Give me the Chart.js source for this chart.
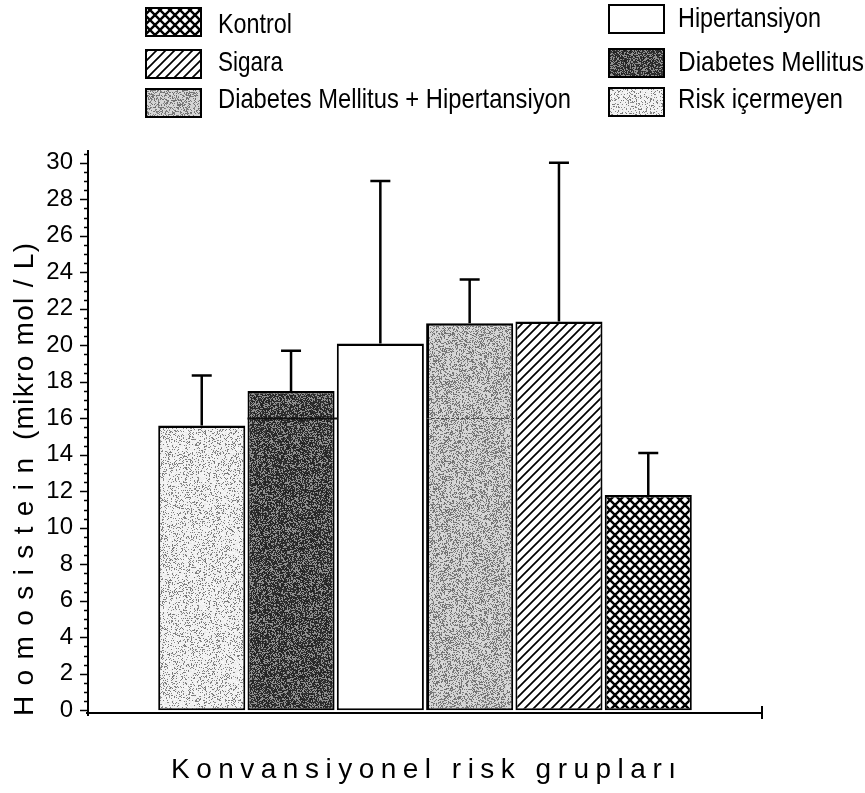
<!DOCTYPE html>
<html>
<head>
<meta charset="utf-8">
<script src="https://cdn.jsdelivr.net/npm/chart.js@4.4.1/dist/chart.umd.min.js"></script>
<style>
  html, body { margin: 0; padding: 0; background: #ffffff; }
  #wrap { position: relative; width: 865px; height: 793px; }
  canvas { display: block; }
</style>
</head>
<body>
<div id="wrap"><canvas id="chart" width="865" height="793"></canvas></div>
<script>
// Risk groups, in bar order (left to right)
const groups = ['Risk içermeyen', 'Diabetes Mellitus', 'Hipertansiyon',
                'Diabetes Mellitus + Hipertansiyon', 'Sigara', 'Kontrol'];
// Mean homocysteine (µmol/L) per group
const means = [15.6, 17.5, 20.1, 21.2, 21.3, 11.8];
// Upper error (SD) per group
const sdUpper = [2.75, 2.2, 8.9, 2.4, 8.7, 2.3];
// Inner divider drawn inside some bars (value, or null for none)
const innerLine = [null, 16, null, 16, null, null];
// Y axis labels
const yTicks = [0, 2, 4, 6, 8, 10, 12, 14, 16, 18, 20, 22, 24, 26, 28, 30];
// Legend: two columns of three entries
const legendLeft = ['Kontrol', 'Sigara', 'Diabetes Mellitus + Hipertansiyon'];
const legendRight = ['Hipertansiyon', 'Diabetes Mellitus', 'Risk içermeyen'];
// Axis titles
const yTitleWord = 'Homosistein';
const yTitleUnit = '(mikro mol / L)';
const xTitle = 'Konvansiyonel risk grupları';

const FONT = '"Liberation Sans Narrow", "Liberation Sans", Arial, sans-serif';

// ---- fill textures ----
function mulberry32(a) {
  return function () {
    a |= 0; a = a + 0x6D2B79F5 | 0;
    let t = Math.imul(a ^ a >>> 15, 1 | a);
    t = t + Math.imul(t ^ t >>> 7, 61 | t) ^ t;
    return ((t ^ t >>> 14) >>> 0) / 4294967296;
  };
}
function stipple(seed, pDark, dark, light) {
  const n = 128;
  const c = document.createElement('canvas');
  c.width = n; c.height = n;
  const g = c.getContext('2d');
  const img = g.createImageData(n, n);
  const rnd = mulberry32(seed);
  for (let i = 0; i < n * n; i++) {
    const v = rnd() < pDark ? dark + rnd() * 30 : light + rnd() * 15;
    img.data[i * 4] = img.data[i * 4 + 1] = img.data[i * 4 + 2] = Math.min(255, v);
    img.data[i * 4 + 3] = 255;
  }
  g.putImageData(img, 0, 0);
  return g.createPattern(c, 'repeat');
}
function hatch(size, width, cross) {
  const c = document.createElement('canvas');
  c.width = size; c.height = size;
  const g = c.getContext('2d');
  g.fillStyle = '#fff'; g.fillRect(0, 0, size, size);
  g.strokeStyle = '#000'; g.lineWidth = width;
  g.beginPath();
  const s = size;
  // "/" lines
  g.moveTo(0, s); g.lineTo(s, 0);
  g.moveTo(-s / 2, s / 2); g.lineTo(s / 2, -s / 2);
  g.moveTo(s / 2, s * 1.5); g.lineTo(s * 1.5, s / 2);
  if (cross) {
    // "\" lines
    g.moveTo(0, 0); g.lineTo(s, s);
    g.moveTo(-s / 2, s / 2); g.lineTo(s / 2, s * 1.5);
    g.moveTo(s / 2, -s / 2); g.lineTo(s * 1.5, s / 2);
  }
  g.stroke();
  return g.createPattern(c, 'repeat');
}

const fills = {
  'Risk içermeyen': stipple(11, 0.2, 115, 234),
  'Diabetes Mellitus': stipple(23, 0.64, 28, 135),
  'Hipertansiyon': '#ffffff',
  'Diabetes Mellitus + Hipertansiyon': stipple(37, 0.38, 105, 205),
  'Sigara': hatch(9, 1.7, false),
  'Kontrol': hatch(10, 2.4, true)
};

const datasets = groups.map((name, i) => ({
  label: name,
  data: [means[i]],
  backgroundColor: fills[name],
  borderColor: '#000',
  borderWidth: i === 3 ? { left: 3, right: 2, top: 2.5, bottom: 2 } : { left: 2, right: 2, top: 2.5, bottom: 2 },
  borderSkipped: false
}));

// ---- drawing helpers ----
function spacedText(ctx, text, length) {
  // lays characters along the baseline so the run spans `length` px
  const chars = [...text];
  const widths = chars.map(ch => ctx.measureText(ch).width);
  const total = widths.reduce((a, b) => a + b, 0);
  const gap = chars.length > 1 ? (length - total) / (chars.length - 1) : 0;
  let x = 0;
  chars.forEach((ch, k) => { ctx.fillText(ch, x, 0); x += widths[k] + gap; });
}

const decorations = {
  id: 'decorations',
  beforeDraw(chart) {
    const ctx = chart.ctx;
    ctx.save();
    ctx.fillStyle = '#fff';
    ctx.fillRect(0, 0, chart.width, chart.height);
    ctx.restore();
  },
  afterDatasetsDraw(chart) {
    const ctx = chart.ctx;
    const y = chart.scales.y;
    ctx.save();
    // inner dividers
    innerLine.forEach((v, i) => {
      if (v == null) return;
      const bar = chart.getDatasetMeta(i).data[0];
      const py = Math.round(y.getPixelForValue(v)) + 0.5;
      ctx.beginPath();
      if (i === 1) { ctx.strokeStyle = '#111'; ctx.lineWidth = 2; ctx.setLineDash([]); }
      else { ctx.strokeStyle = '#444'; ctx.lineWidth = 1; ctx.setLineDash([3, 2]); }
      ctx.moveTo(bar.x - bar.width / 2, py);
      ctx.lineTo(bar.x + bar.width / 2 + 3, py);
      ctx.stroke();
    });
    ctx.setLineDash([]);
    // upper error bars
    ctx.strokeStyle = '#000';
    ctx.lineWidth = 2.5;
    groups.forEach((_, i) => {
      const bar = chart.getDatasetMeta(i).data[0];
      const top = y.getPixelForValue(means[i] + sdUpper[i]);
      ctx.beginPath();
      ctx.moveTo(bar.x, bar.y);
      ctx.lineTo(bar.x, top);
      ctx.moveTo(bar.x - 10, top);
      ctx.lineTo(bar.x + 10, top);
      ctx.stroke();
    });
    ctx.restore();
  },
  afterDraw(chart) {
    const ctx = chart.ctx;
    const { left, right, top, bottom } = chart.chartArea;
    const y = chart.scales.y;
    ctx.save();
    ctx.strokeStyle = '#000';
    ctx.fillStyle = '#000';

    // axes
    ctx.lineWidth = 2;
    ctx.beginPath();
    ctx.moveTo(left, top);
    ctx.lineTo(left, bottom + 3);
    ctx.moveTo(left - 2, bottom);
    ctx.lineTo(right, bottom);
    ctx.moveTo(right, bottom - 7);
    ctx.lineTo(right, bottom + 6);
    ctx.stroke();

    // y tick marks: major at labels, minor every 0.5
    ctx.lineWidth = 1.5;
    ctx.beginPath();
    for (let v = 0; v <= y.max + 1e-6; v += 0.5) {
      const py = Math.round(y.getPixelForValue(v)) + 0.5;
      const major = yTicks.includes(v);
      ctx.moveTo(left - (major ? 8 : 4), py);
      ctx.lineTo(left, py);
    }
    ctx.stroke();

    // y title (rotated)
    ctx.font = '28px ' + FONT;
    ctx.textBaseline = 'alphabetic';
    ctx.textAlign = 'left';
    ctx.save();
    ctx.translate(33, 716);
    ctx.rotate(-Math.PI / 2);
    spacedText(ctx, yTitleWord, 258);
    ctx.restore();
    ctx.save();
    ctx.translate(33, 440);
    ctx.rotate(-Math.PI / 2);
    spacedText(ctx, yTitleUnit, 197);
    ctx.restore();

    // x title
    ctx.save();
    ctx.translate(171, 778);
    spacedText(ctx, xTitle, 505);
    ctx.restore();

    // legend
    const drawItem = (name, sx, sy, tx, ty, maxW) => {
      ctx.fillStyle = fills[name];
      ctx.fillRect(sx, sy, 55, 28);
      ctx.lineWidth = 2;
      ctx.strokeStyle = '#000';
      ctx.strokeRect(sx, sy, 55, 28);
      ctx.fillStyle = '#000';
      ctx.font = '28px ' + FONT;
      ctx.fillText(name, tx, ty, maxW);
    };
    const leftRows = [[8, 33], [50, 71], [89, 108]];
    const rightRows = [[5, 27], [49, 71], [88, 108]];
    const leftW = [74, 65, 353];
    const rightW = [143, 186, 165];
    legendLeft.forEach((n, k) => drawItem(n, 146, leftRows[k][0], 218, leftRows[k][1], leftW[k]));
    legendRight.forEach((n, k) => drawItem(n, 609, rightRows[k][0], 678, rightRows[k][1], rightW[k]));
    ctx.restore();
  }
};

new Chart(document.getElementById('chart'), {
  type: 'bar',
  data: { labels: [xTitle], datasets },
  options: {
    responsive: false,
    animation: false,
    devicePixelRatio: 1,
    layout: { padding: { top: 150, right: 103, bottom: 0, left: 0 } },
    categoryPercentage: 0.795,
    barPercentage: 0.975,
    plugins: { legend: { display: false }, tooltip: { enabled: false } },
    scales: {
      x: {
        grid: { display: false, drawTicks: false },
        border: { display: false },
        ticks: { display: false },
        afterFit: s => { s.height = 80; }
      },
      y: {
        min: -0.15,
        max: 30.7,
        grid: { display: false, drawTicks: false },
        border: { display: false },
        afterBuildTicks: s => { s.ticks = yTicks.map(v => ({ value: v })); },
        ticks: {
          autoSkip: false,
          padding: 15,
          color: '#000',
          font: { family: FONT, size: 24 },
          callback: v => v
        },
        afterFit: s => { s.width = 88; }
      }
    }
  },
  plugins: [decorations]
});
</script>
</body>
</html>
